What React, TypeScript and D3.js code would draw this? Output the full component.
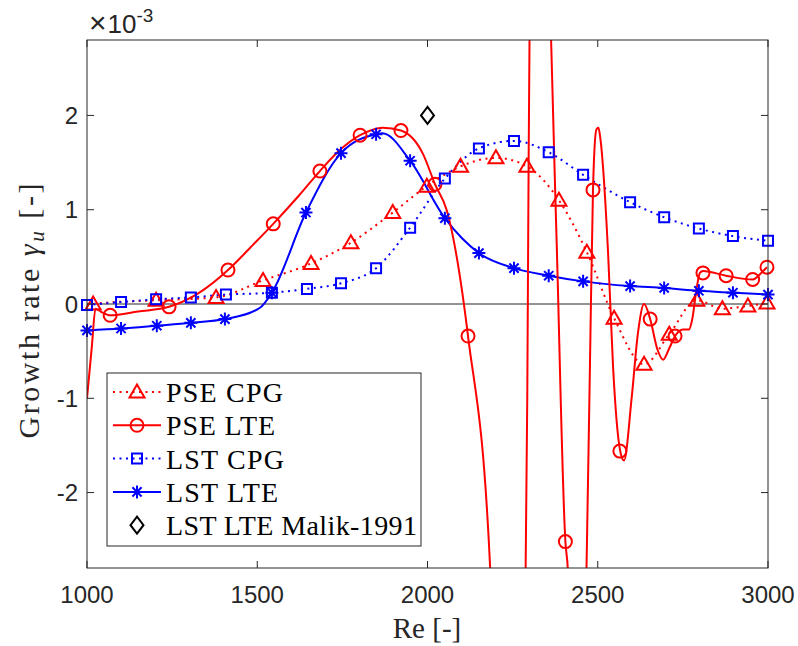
import React from 'react';
import * as d3 from 'd3';

// ---------- data (growth rate in units of 1e-3) ----------
const xTicks = [1000, 1500, 2000, 2500, 3000];
const yTicks = [-2, -1, 0, 1, 2];

// PSE CPG (red dotted, triangles)
const pseCpgRe = [1000, 1018, 1203, 1379, 1517, 1658, 1775, 1898, 1998, 2097, 2201, 2292, 2386, 2468, 2548, 2636, 2710, 2791, 2866, 2941, 2997];
const pseCpgVal = [-0.02, 0.0, 0.04, 0.07, 0.25, 0.43, 0.65, 0.97, 1.25, 1.46, 1.55, 1.46, 1.10, 0.55, -0.15, -0.64, -0.32, 0.04, -0.05, -0.02, 0.01];
const pseCpgMarkRe = [1018, 1203, 1379, 1517, 1658, 1775, 1898, 1998, 2097, 2201, 2292, 2386, 2468, 2548, 2636, 2710, 2791, 2866, 2941, 2997];
const pseCpgMarkVal = [0.0, 0.04, 0.07, 0.25, 0.43, 0.65, 0.97, 1.25, 1.46, 1.55, 1.46, 1.10, 0.55, -0.15, -0.64, -0.32, 0.04, -0.05, -0.02, 0.01];

// PSE LTE (red solid, circles)
const pseLteRe = [1000, 1014, 1025, 1040, 1068, 1150, 1241, 1330, 1414, 1480, 1547, 1620, 1684, 1745, 1802, 1869, 1922, 1987, 2022, 2057, 2119, 2184, 2215, 2260, 2285, 2293, 2297, 2302, 2320, 2345, 2363, 2380, 2405, 2412, 2430, 2450, 2467, 2477, 2486, 2496, 2502, 2506, 2530, 2545, 2565, 2577, 2600, 2618, 2636, 2654, 2675, 2692, 2710, 2727, 2750, 2768, 2777, 2791, 2800, 2809, 2877, 2955, 2980, 2997];
const pseLteVal = [-1.0, -0.46, -0.05, -0.08, -0.12, -0.08, -0.03, 0.12, 0.36, 0.6, 0.85, 1.14, 1.41, 1.64, 1.79, 1.87, 1.84, 1.59, 1.27, 0.99, -0.34, -2.8, -6, -7, -4, -1, 1.5, 4, 8, 6, 2.8, 0.57, -2.52, -2.8, -5, -5, -2.8, -0.67, 1.21, 1.85, 1.87, 1.8, 0.57, -0.67, -1.54, -1.66, -0.98, -0.31, 0.0, -0.16, -0.48, -0.59, -0.47, -0.34, -0.27, -0.27, -0.17, 0.18, 0.33, 0.35, 0.30, 0.26, 0.33, 0.39];
const pseLteMarkRe = [1068, 1241, 1414, 1547, 1684, 1802, 1922, 2022, 2119, 2405, 2486, 2565, 2654, 2727, 2809, 2877, 2955, 2997];
const pseLteMarkVal = [-0.12, -0.03, 0.36, 0.85, 1.41, 1.79, 1.84, 1.27, -0.34, -2.52, 1.21, -1.56, -0.16, -0.34, 0.33, 0.30, 0.26, 0.39];

// LST CPG (blue dotted, squares)
const lstCpgRe = [1000, 1100, 1203, 1305, 1408, 1543, 1646, 1746, 1849, 1949, 2051, 2151, 2254, 2356, 2457, 2595, 2695, 2797, 2897, 3000];
const lstCpgVal = [-0.01, 0.02, 0.05, 0.07, 0.10, 0.12, 0.16, 0.22, 0.38, 0.81, 1.33, 1.65, 1.73, 1.61, 1.37, 1.08, 0.92, 0.80, 0.72, 0.67];

// LST LTE (blue solid, asterisks)
const lstLteRe = [1000, 1100, 1205, 1305, 1405, 1508, 1543, 1643, 1746, 1849, 1868, 1949, 2051, 2151, 2254, 2356, 2457, 2595, 2695, 2797, 2897, 3000];
const lstLteVal = [-0.28, -0.26, -0.23, -0.20, -0.16, -0.04, 0.12, 0.97, 1.60, 1.80, 1.81, 1.52, 0.91, 0.54, 0.38, 0.30, 0.24, 0.19, 0.17, 0.14, 0.12, 0.10];
const lstLteMarkRe = [1000, 1100, 1205, 1305, 1405, 1543, 1643, 1746, 1849, 1949, 2051, 2151, 2254, 2356, 2457, 2595, 2695, 2797, 2897, 3000];
const lstLteMarkVal = [-0.28, -0.26, -0.23, -0.20, -0.16, 0.12, 0.97, 1.60, 1.80, 1.52, 0.91, 0.54, 0.38, 0.30, 0.24, 0.19, 0.17, 0.14, 0.12, 0.10];

// Malik 1991 reference point
const malikRe = [2000];
const malikVal = [2.0];

const legendLabels = ['PSE CPG', 'PSE LTE', 'LST CPG', 'LST LTE', 'LST LTE Malik-1991'];
const legendWidths = [117, 109, 118, 112, 251];

// ---------- layout ----------
const W = 798, H = 646;
const L = 87, R = 768, T = 40, B = 568;
const RED = '#ff0000', BLUE = '#0000ff';
const AX = '#262626';
const SERIF = "'Liberation Serif', 'DejaVu Serif', serif";
const SANS = "'Liberation Sans', Arial, sans-serif";

const x = d3.scaleLinear().domain([1000, 3000]).range([L, R]);
const y = d3.scaleLinear().domain([-2.8, 2.8]).range([B, T]);

const zip = (a: number[], b: number[]) => a.map((v, i) => [v, b[i]] as [number, number]);
const lineGen = d3.line<[number, number]>().x(d => x(d[0])).y(d => y(d[1])).curve(d3.curveMonotoneX);

const triPath = 'M0,-7.5L7.5,5.5L-7.5,5.5Z';
const sqPath = 'M-5,-5H5V5H-5Z';
const diaPath = 'M0,-8.5L6.5,0L0,8.5L-6.5,0Z';
const starPath = 'M-6.5,0H6.5M0,-6.5V6.5M-4.6,-4.6L4.6,4.6M-4.6,4.6L4.6,-4.6';

function Marker({ kind, cx, cy, color }: { kind: string; cx: number; cy: number; color: string }) {
  const t = `translate(${cx},${cy})`;
  if (kind === 'tri') return <path d={triPath} transform={t} fill="none" stroke={color} strokeWidth={2} />;
  if (kind === 'circ') return <circle cx={cx} cy={cy} r={6.5} fill="none" stroke={color} strokeWidth={2} />;
  if (kind === 'sq') return <path d={sqPath} transform={t} fill="none" stroke={color} strokeWidth={2} />;
  if (kind === 'star') return <path d={starPath} transform={t} fill="none" stroke={color} strokeWidth={2} />;
  return <path d={diaPath} transform={t} fill="none" stroke={color} strokeWidth={2} />;
}

const serifStyle = { fontFamily: SERIF };
const sansStyle = { fontFamily: SANS };

export default function App() {
  const legendItems = [
    { kind: 'tri', color: RED, dash: '2 4.5', line: true },
    { kind: 'circ', color: RED, dash: null, line: true },
    { kind: 'sq', color: BLUE, dash: '2 4.5', line: true },
    { kind: 'star', color: BLUE, dash: null, line: true },
    { kind: 'dia', color: '#000', dash: null, line: false },
  ];
  return (
    <svg width={W} height={H} style={{ position: 'absolute', left: 0, top: 0, background: '#fff' }}>
      <defs>
        <clipPath id="plotclip">
          <rect x={L} y={T} width={R - L} height={B - T} />
        </clipPath>
      </defs>
      <rect x={0} y={0} width={W} height={H} fill="#fff" />

      {/* zero line */}
      <line x1={L} x2={R} y1={y(0)} y2={y(0)} stroke={AX} strokeWidth={1} />

      {/* lines */}
      <g clipPath="url(#plotclip)" fill="none">
        <path d={lineGen(zip(pseCpgRe, pseCpgVal)) || ''} stroke={RED} strokeWidth={2} strokeDasharray="2 4.5" />
        <path d={lineGen(zip(lstCpgRe, lstCpgVal)) || ''} stroke={BLUE} strokeWidth={2} strokeDasharray="2 4.5" />
        <path d={lineGen(zip(lstLteRe, lstLteVal)) || ''} stroke={BLUE} strokeWidth={2} />
        <path d={lineGen(zip(pseLteRe, pseLteVal)) || ''} stroke={RED} strokeWidth={2} />
      </g>

      {/* markers */}
      <g>
        {zip(pseCpgMarkRe, pseCpgMarkVal).map((d, i) => <Marker key={'a' + i} kind="tri" cx={x(d[0])} cy={y(d[1])} color={RED} />)}
        {zip(pseLteMarkRe, pseLteMarkVal).map((d, i) => <Marker key={'b' + i} kind="circ" cx={x(d[0])} cy={y(d[1])} color={RED} />)}
        {zip(lstCpgRe, lstCpgVal).map((d, i) => <Marker key={'c' + i} kind="sq" cx={x(d[0])} cy={y(d[1])} color={BLUE} />)}
        {zip(lstLteMarkRe, lstLteMarkVal).map((d, i) => <Marker key={'d' + i} kind="star" cx={x(d[0])} cy={y(d[1])} color={BLUE} />)}
        {zip(malikRe, malikVal).map((d, i) => <Marker key={'e' + i} kind="dia" cx={x(d[0])} cy={y(d[1])} color="#000" />)}
      </g>

      {/* axes box */}
      <rect x={L} y={T} width={R - L} height={B - T} fill="none" stroke={AX} strokeWidth={1} />
      {xTicks.map(t => (
        <g key={'xt' + t}>
          <line x1={x(t)} x2={x(t)} y1={B} y2={B - 7} stroke={AX} />
          <line x1={x(t)} x2={x(t)} y1={T} y2={T + 7} stroke={AX} />
          <text x={x(t)} y={603} textAnchor="middle" style={sansStyle} fontSize={24} fill={AX}>{t}</text>
        </g>
      ))}
      {yTicks.map(t => (
        <g key={'yt' + t}>
          <line x1={L} x2={L + 7} y1={y(t)} y2={y(t)} stroke={AX} />
          <line x1={R} x2={R - 7} y1={y(t)} y2={y(t)} stroke={AX} />
          <text x={78} y={y(t) + 8.5} textAnchor="end" style={sansStyle} fontSize={24} fill={AX}>{t < 0 ? '-' + Math.abs(t) : t}</text>
        </g>
      ))}

      {/* exponent */}
      <text x={89} y={33} style={sansStyle} fontSize={26} fill={AX}>
        <tspan fontSize={30}>×</tspan><tspan dx={1}>10</tspan><tspan dy={-11} fontSize={19}>-3</tspan>
      </text>

      {/* axis labels */}
      <text x={427} y={638} textAnchor="middle" style={serifStyle} fontSize={29} fill={AX}>Re [-]</text>
      <text transform="translate(39,311) rotate(-90)" textAnchor="middle" style={serifStyle} fontSize={30} fill={AX} textLength={255} lengthAdjust="spacing">
        Growth rate <tspan fontStyle="italic">γ</tspan><tspan fontStyle="italic" fontSize={21} dy={5}>u</tspan><tspan dy={-5}> [-]</tspan>
      </text>

      {/* legend */}
      <rect x={107} y={373} width={314} height={173} fill="#fff" stroke={AX} strokeWidth={1} />
      {legendItems.map((it, i) => {
        const cy = 392 + i * 33.3;
        return (
          <g key={'lg' + i}>
            {it.line && <line x1={113} x2={161} y1={cy} y2={cy} stroke={it.color} strokeWidth={2} strokeDasharray={it.dash || undefined} />}
            <Marker kind={it.kind} cx={137} cy={cy} color={it.color} />
            <text x={166} y={cy + 10} style={serifStyle} fontSize={28} fill="#000" textLength={legendWidths[i]} lengthAdjust="spacing">{legendLabels[i]}</text>
          </g>
        );
      })}
    </svg>
  );
}
